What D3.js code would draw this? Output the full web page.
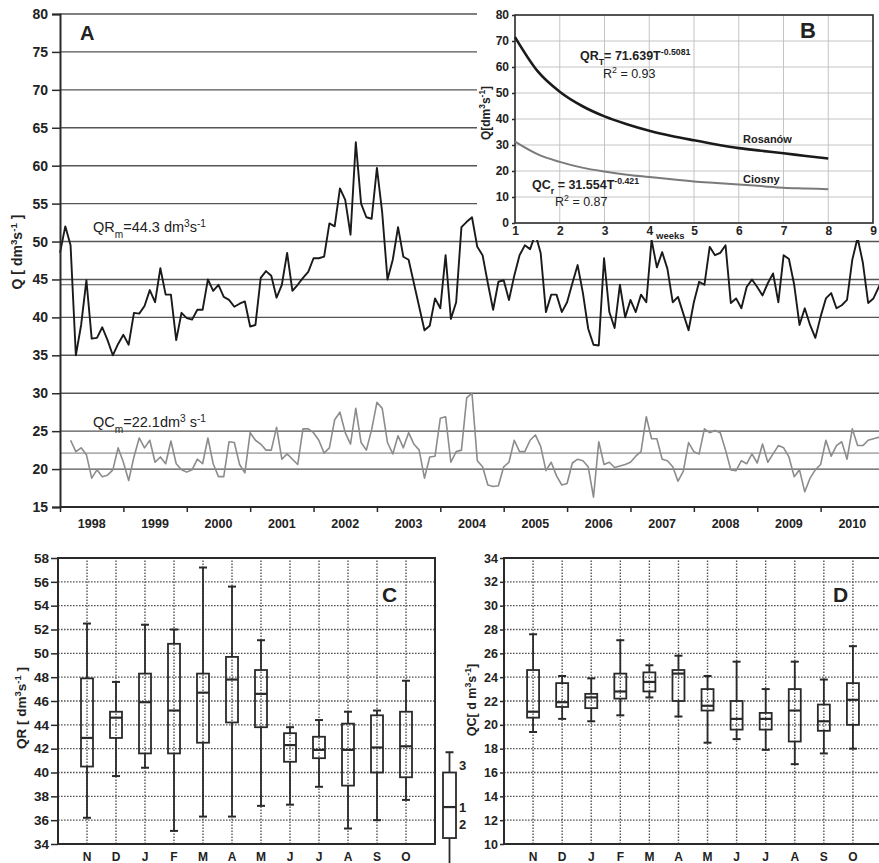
<!DOCTYPE html>
<html><head><meta charset="utf-8">
<script src="https://cdn.jsdelivr.net/npm/d3@7"></script>
<style>
body{margin:0;background:#fff}
svg text{fill:#222}
</style>
</head><body>
<svg id="c" width="879" height="863"></svg>
<script>
// ---------------- DATA ----------------
const years = ["1998","1999","2000","2001","2002","2003","2004","2005","2006","2007","2008","2009","2010"];
const aTicks = [15,20,25,30,35,40,45,50,55,60,65,70,75,80];
const qrMean = 44.3, qcMean = 22.1;
// monthly discharge Rosanów (QR), index 0 = first month shown
const qrMonthly = [48.5,52,49.5,35,39,44.9,37.2,37.3,38.7,37,35,36.5,37.7,36.4,40.6,40.5,41.5,43.6,42,46.5,
 43,43,37,40.6,39.9,39.7,41,41,45,43.5,44.3,42.7,42.3,41.4,41.8,42.1,38.8,39,45.2,46.1,
 45.5,42.6,44.3,48.5,43.5,44.3,45.2,46,47.8,47.8,48,52.4,52,57,55.5,50.9,63.1,55,53.2,53,
 59.7,53.8,45,47.6,51.9,48,47.6,44.5,41.4,38.3,38.9,42.5,41.2,48.2,39.8,42,51.9,52.6,53.2,49.3,
 48.2,44.5,41,44.7,44.9,42.3,45.5,48.2,49.5,49,51,48.5,40.7,43,43,40.7,42,44.5,46.9,43.2,
 38.5,36.4,36.3,47.8,40.7,38.6,44.3,40,42.3,40.7,43,42,50.2,46.6,48.6,46.4,42,42.7,40.5,38.3,
 42,44.7,44.3,49.3,48.2,48.5,49.5,41.9,42.5,41.2,44,45,44,42.9,44.5,45.8,42,48.2,47.7,44.3,
 39,41.2,39,37.3,40.1,42.5,43.2,41.2,41.6,42.3,47.6,50.5,47.2,41.9,42.5,44,45.5];
// monthly discharge Ciosny (QC), starts at month index 2
const qcStart = 2;
const qcMonthly = [23.8,22.3,22.8,21.9,18.8,19.9,19.0,19.2,19.9,22.8,20.9,18.5,21.6,24.1,22.8,23.8,20.9,21.6,20.7,23.7,
 20.7,19.9,19.6,19.9,21.3,20.7,24.1,20.7,19.0,19.0,23.6,23.5,20.6,19.5,24.8,23.8,23.3,22.5,22.5,25.5,
 21.3,22,21.3,20.6,25.3,25.3,24.8,23.8,22.1,22.8,26.5,27.5,24.8,23.3,28,23.5,22.5,25.2,28.8,28,
 23.5,22,24.4,22.8,24.8,23.3,22.5,18.8,21.6,21.7,26.7,26.9,20.9,22.3,22.5,29.4,30,21.1,20.3,17.9,
 17.7,17.8,20.3,20.9,23.8,22.3,22.3,23.8,24.5,23,19.8,20.9,19.1,17.9,18.1,20.8,21.3,21.1,20.3,16.3,
 23.6,20.6,20.9,20.2,20.4,20.6,20.9,21.7,22.3,26.9,24,24,21.3,21.1,20.3,18.4,19.7,23.5,22.3,22,
 25.3,24.8,25.1,24.8,22.5,19.9,19.8,21.1,20.7,22,20.8,23.3,20.9,22,23.1,22.8,21.6,19,19.9,17,
 18.8,19.9,20.6,23.8,21.7,23.1,23.6,21.3,25.3,23.1,23.1,23.8,24,24.2,24];

// Panel B: recession curves
const weeks = [1,1.5,2,2.5,3,3.5,4,4.5,5,5.5,6,6.5,7,7.5,8];
const qrCurve = [71.5,58.5,50.5,45,41,38,35.5,33.5,31.8,30.2,28.8,27.8,26.8,25.8,24.8];
const qcCurve = [31.3,26.5,23.5,21.3,19.8,18.6,17.7,16.8,16.0,15.4,14.8,14.2,13.6,13.3,13.0];
const bXTicks = [1,2,3,4,5,6,7,8,9];
const bYTicks = [0,10,20,30,40,50,60,70,80];

// Panels C/D: monthly box plots
const months = ["N","D","J","F","M","A","M","J","J","A","S","O"];
const qrMin = [36.2,39.7,40.4,35.1,36.3,36.3,37.2,37.3,38.8,35.3,36.0,37.7];
const qrQ1  = [40.5,42.9,41.6,41.6,42.5,44.2,43.8,40.9,41.2,38.9,40.0,39.6];
const qrMed = [42.9,44.6,45.9,45.2,46.7,47.8,46.6,42.3,41.9,41.9,42.1,42.2];
const qrQ3  = [47.9,45.1,48.3,50.8,48.3,49.7,48.6,43.3,43.0,44.1,44.8,45.1];
const qrMax = [52.5,47.6,52.4,52.0,57.2,55.6,51.1,43.8,44.4,45.1,45.2,47.7];
const cTicks = [34,36,38,40,42,44,46,48,50,52,54,56,58];
const legendBox = {min:32.3, q1:34.5, med:37.1, q3:40.0, max:41.7};

const qcMin = [19.4,20.5,20.3,20.8,22.3,20.7,18.5,18.8,17.9,16.7,17.6,18.0];
const qcQ1  = [20.6,21.5,21.4,22.2,22.8,22.0,21.2,19.6,19.6,18.6,19.5,20.0];
const qcMed = [21.1,21.9,22.3,22.8,23.6,24.3,21.6,20.5,20.5,21.2,20.3,22.1];
const qcQ3  = [24.6,23.5,22.6,24.3,24.4,24.6,23.0,22.0,21.0,23.0,21.7,23.5];
const qcMax = [27.6,24.1,23.9,27.1,25.0,25.8,24.1,25.3,23.0,25.3,23.8,26.6];
const dTicks = [10,12,14,16,18,20,22,24,26,28,30,32,34];

// ---------------- DRAW ----------------
const NARROW = '"Liberation Sans Narrow","Arial Narrow","Liberation Sans",Arial,sans-serif';
const SANS = '"Liberation Sans",Arial,sans-serif';
const svg = d3.select("#c");
const INK = "#2a2a2a";

function styleAxis(g, fs) {
  g.attr("font-family", NARROW).attr("font-weight", "bold").attr("font-size", fs);
  g.select(".domain").attr("stroke", INK).attr("stroke-width", 2);
  g.selectAll(".tick line").attr("stroke", INK).attr("stroke-width", 1.5);
  g.selectAll(".tick text").attr("font-family", NARROW).attr("font-weight", "bold")
    .attr("font-size", fs).attr("fill", "#222");
}
function supText(sel, parts, size) {
  parts.forEach(([t, k]) => {
    const ts = sel.append("tspan").text(t);
    if (k === "sup") ts.attr("baseline-shift", "super").attr("font-size", size * 0.7);
    if (k === "sub") ts.attr("baseline-shift", "sub").attr("font-size", size * 0.7);
  });
}

// ===== Panel A =====
const xA = d3.scaleLinear().domain([0, 156]).range([60, 884]);
const yA = d3.scaleLinear().domain([15, 80]).range([507, 14]);
const gA = svg.append("g");
gA.selectAll("line.grid").data(aTicks.filter(v => v > 15)).join("line")
  .attr("x1", xA(0)).attr("x2", 879).attr("y1", d => yA(d)).attr("y2", d => yA(d))
  .attr("stroke", "#555").attr("stroke-width", 1.4);
gA.append("line").attr("x1", xA(0)).attr("x2", 879).attr("y1", yA(qrMean)).attr("y2", yA(qrMean))
  .attr("stroke", "#555").attr("stroke-width", 1.2);
gA.append("line").attr("x1", xA(0)).attr("x2", 879).attr("y1", yA(qcMean)).attr("y2", yA(qcMean))
  .attr("stroke", "#b0b0b0").attr("stroke-width", 1.6);

gA.append("path").datum(qcMonthly)
  .attr("d", d3.line().x((d, i) => xA(i + qcStart)).y(d => yA(d)))
  .attr("fill", "none").attr("stroke", "#8c8c8c").attr("stroke-width", 1.6).attr("stroke-linejoin", "round");
gA.append("path").datum(qrMonthly)
  .attr("d", d3.line().x((d, i) => xA(i)).y(d => yA(d)))
  .attr("fill", "none").attr("stroke", "#1a1a1a").attr("stroke-width", 1.9).attr("stroke-linejoin", "round");

const axAL = gA.append("g").attr("transform", `translate(${xA(0)},0)`)
  .call(d3.axisLeft(yA).tickValues(aTicks).tickSize(8).tickPadding(4));
styleAxis(axAL, 14);
const yearBounds = d3.range(0, years.length + 1).map(k => k * 12);
const axAB = gA.append("g").attr("transform", `translate(0,${yA(15)})`)
  .call(d3.axisBottom(xA).tickValues(yearBounds).tickSize(5).tickFormat(""));
styleAxis(axAB, 12);
axAB.select(".domain").attr("d", `M${xA(0)},0H879`);
gA.selectAll("text.yr").data(years).join("text")
  .attr("x", (d, i) => xA(i * 12 + 6)).attr("y", 528).attr("text-anchor", "middle")
  .attr("font-family", NARROW).attr("font-weight", "bold").attr("font-size", 12.5).text(d => d);

gA.append("text").attr("x", 80).attr("y", 40).attr("font-family", SANS).attr("font-weight", "bold")
  .attr("font-size", 20).text("A");
const tA = gA.append("text").attr("transform", "translate(22,252) rotate(-90)").attr("text-anchor", "middle")
  .attr("font-family", SANS).attr("font-weight", "bold").attr("font-size", 14);
supText(tA, [["Q [ dm", "n"], ["3", "sup"], ["s", "n"], ["-1", "sup"], [" ]", "n"]], 14);

const tQR = gA.append("text").attr("x", 93).attr("y", 232).attr("font-family", SANS).attr("font-size", 14.5).attr("fill", "#333");
supText(tQR, [["QR", "n"], ["m", "sub"], ["=44.3 dm", "n"], ["3", "sup"], ["s", "n"], ["-1", "sup"]], 14.5);
const tQC = gA.append("text").attr("x", 93).attr("y", 427).attr("font-family", SANS).attr("font-size", 14.5).attr("fill", "#333");
supText(tQC, [["QC", "n"], ["m", "sub"], ["=22.1dm", "n"], ["3", "sup"], [" s", "n"], ["-1", "sup"]], 14.5);

// ===== Panel B (inset) =====
const gB = svg.append("g");
gB.append("rect").attr("x", 477).attr("y", 0).attr("width", 402).attr("height", 240).attr("fill", "#fff");
const xB = d3.scaleLinear().domain([1, 9]).range([515, 873]);
const yB = d3.scaleLinear().domain([0, 80]).range([223, 15]);
gB.selectAll("line.vg").data(bXTicks.slice(1, -1)).join("line")
  .attr("x1", d => xB(d)).attr("x2", d => xB(d)).attr("y1", yB(0)).attr("y2", yB(80))
  .attr("stroke", "#c4c4c4").attr("stroke-width", 1);
gB.selectAll("line.hg").data(bYTicks.slice(1, -1)).join("line")
  .attr("x1", xB(1)).attr("x2", xB(9)).attr("y1", d => yB(d)).attr("y2", d => yB(d))
  .attr("stroke", "#c4c4c4").attr("stroke-width", 1);
gB.append("rect").attr("x", xB(1)).attr("y", yB(80)).attr("width", xB(9) - xB(1)).attr("height", yB(0) - yB(80))
  .attr("fill", "none").attr("stroke", INK).attr("stroke-width", 1.6);
const axBL = gB.append("g").attr("transform", `translate(${xB(1)},0)`)
  .call(d3.axisLeft(yB).tickValues(bYTicks).tickSize(3).tickPadding(3));
styleAxis(axBL, 12); axBL.select(".domain").remove();
const axBB = gB.append("g").attr("transform", `translate(0,${yB(0)})`)
  .call(d3.axisBottom(xB).tickValues(bXTicks).tickSize(0).tickPadding(3));
styleAxis(axBB, 12); axBB.select(".domain").remove();
gB.append("path").datum(weeks.map((w, i) => [w, qcCurve[i]]))
  .attr("d", d3.line().x(d => xB(d[0])).y(d => yB(d[1])).curve(d3.curveMonotoneX))
  .attr("fill", "none").attr("stroke", "#7a7a7a").attr("stroke-width", 2);
gB.append("path").datum(weeks.map((w, i) => [w, qrCurve[i]]))
  .attr("d", d3.line().x(d => xB(d[0])).y(d => yB(d[1])).curve(d3.curveMonotoneX))
  .attr("fill", "none").attr("stroke", "#1a1a1a").attr("stroke-width", 2.6);
gB.append("text").attr("x", 800).attr("y", 38).attr("font-family", SANS).attr("font-weight", "bold")
  .attr("font-size", 22).text("B");
const tB = gB.append("text").attr("transform", "translate(490,113) rotate(-90)").attr("text-anchor", "middle")
  .attr("font-family", NARROW).attr("font-weight", "bold").attr("font-size", 12);
supText(tB, [["Q[dm", "n"], ["3", "sup"], ["s", "n"], ["-1", "sup"], ["]", "n"]], 12);
const eq1 = gB.append("text").attr("x", 580).attr("y", 60).attr("font-family", NARROW).attr("font-weight", "bold").attr("font-size", 12.5);
supText(eq1, [["QR", "n"], ["T", "sub"], ["= 71.639T", "n"], ["-0.5081", "sup"]], 12.5);
const r1 = gB.append("text").attr("x", 603).attr("y", 78).attr("font-family", NARROW).attr("font-size", 12.5).attr("fill", "#444");
supText(r1, [["R", "n"], ["2", "sup"], [" = 0.93", "n"]], 12.5);
const eq2 = gB.append("text").attr("x", 532).attr("y", 189).attr("font-family", NARROW).attr("font-weight", "bold").attr("font-size", 12.5);
supText(eq2, [["QC", "n"], ["r", "sub"], [" = 31.554T", "n"], ["-0.421", "sup"]], 12.5);
const r2 = gB.append("text").attr("x", 555).attr("y", 206).attr("font-family", NARROW).attr("font-size", 12.5).attr("fill", "#444");
supText(r2, [["R", "n"], ["2", "sup"], [" = 0.87", "n"]], 12.5);
gB.append("text").attr("x", 743).attr("y", 143).attr("font-family", NARROW).attr("font-weight", "bold").attr("font-size", 11).text("Rosanów");
gB.append("text").attr("x", 743).attr("y", 183).attr("font-family", NARROW).attr("font-weight", "bold").attr("font-size", 11).text("Ciosny");
gB.append("text").attr("x", 656).attr("y", 239).attr("font-family", NARROW).attr("font-weight", "bold").attr("font-size", 9.5).text("weeks");

// ===== Box plot panels =====
function boxPanel(cfg) {
  const g = svg.append("g");
  const x = d3.scalePoint().domain(d3.range(12)).range([cfg.x0, cfg.x1]).padding(1);
  const y = d3.scaleLinear().domain(cfg.dom).range([844, 558]);
  const right = Math.min(cfg.x1, 879);
  g.selectAll("line.hg").data(cfg.ticks.slice(1, -1)).join("line")
    .attr("x1", cfg.x0).attr("x2", right).attr("y1", d => y(d)).attr("y2", d => y(d))
    .attr("stroke", "#555").attr("stroke-width", 1.4).attr("stroke-dasharray", "1.6,1.4");
  g.selectAll("line.vg").data(d3.range(12)).join("line")
    .attr("x1", d => x(d)).attr("x2", d => x(d)).attr("y1", y(cfg.dom[0])).attr("y2", y(cfg.dom[1]))
    .attr("stroke", "#555").attr("stroke-width", 1.4).attr("stroke-dasharray", "1.6,1.4");
  g.append("rect").attr("x", cfg.x0).attr("y", y(cfg.dom[1])).attr("width", cfg.x1 - cfg.x0)
    .attr("height", y(cfg.dom[0]) - y(cfg.dom[1])).attr("fill", "none").attr("stroke", INK).attr("stroke-width", 2);
  const ax = g.append("g").attr("transform", `translate(${cfg.x0},0)`)
    .call(d3.axisLeft(y).tickValues(cfg.ticks).tickSize(cfg.tick).tickPadding(2));
  styleAxis(ax, cfg.fs); ax.select(".domain").remove();
  g.selectAll("text.m").data(months).join("text")
    .attr("x", (d, i) => x(i)).attr("y", 861).attr("text-anchor", "middle")
    .attr("font-family", NARROW).attr("font-weight", "bold").attr("font-size", 12).text(d => d);
  const bw = 12;
  d3.range(12).forEach(i => {
    const cx = x(i);
    g.append("line").attr("x1", cx).attr("x2", cx).attr("y1", y(cfg.max[i])).attr("y2", y(cfg.q3[i])).attr("stroke", INK).attr("stroke-width", 1.8);
    g.append("line").attr("x1", cx).attr("x2", cx).attr("y1", y(cfg.q1[i])).attr("y2", y(cfg.min[i])).attr("stroke", INK).attr("stroke-width", 1.8);
    [cfg.max[i], cfg.min[i]].forEach(v => g.append("line").attr("x1", cx - 4).attr("x2", cx + 4)
      .attr("y1", y(v)).attr("y2", y(v)).attr("stroke", INK).attr("stroke-width", 2));
    g.append("rect").attr("x", cx - bw / 2).attr("y", y(cfg.q3[i])).attr("width", bw)
      .attr("height", y(cfg.q1[i]) - y(cfg.q3[i])).attr("fill", "none").attr("stroke", INK).attr("stroke-width", 1.8);
    g.append("line").attr("x1", cx - bw / 2).attr("x2", cx + bw / 2).attr("y1", y(cfg.med[i])).attr("y2", y(cfg.med[i]))
      .attr("stroke", INK).attr("stroke-width", 2.2);
  });
  g.append("text").attr("x", cfg.lx).attr("y", 602).attr("font-family", SANS).attr("font-weight", "bold")
    .attr("font-size", 21).text(cfg.label);
  const tt = g.append("text").attr("transform", `translate(${cfg.tx},${cfg.ty}) rotate(-90)`).attr("text-anchor", "middle")
    .attr("font-family", SANS).attr("font-weight", "bold").attr("font-size", cfg.tfs);
  supText(tt, cfg.title, cfg.tfs);
  return {g, x, y};
}

const C = boxPanel({x0: 58, x1: 435, dom: [34, 58], ticks: cTicks, min: qrMin, q1: qrQ1, med: qrMed, q3: qrQ3, max: qrMax,
  label: "C", lx: 382, tx: 26, ty: 708, tick: 7, fs: 13.5, tfs: 13.5,
  title: [["QR [ dm", "n"], ["3", "sup"], ["s", "n"], ["-1", "sup"], [" ]", "n"]]});
const D = boxPanel({x0: 504, x1: 882, dom: [10, 34], ticks: dTicks, min: qcMin, q1: qcQ1, med: qcMed, q3: qcQ3, max: qcMax,
  label: "D", lx: 833, tx: 476, ty: 700, tick: 4, fs: 12.5, tfs: 12.5,
  title: [["QC[ d m", "n"], ["3", "sup"], ["s", "n"], ["-1", "sup"], ["]", "n"]]});

// legend box (drawn in C's value scale)
const lg = svg.append("g");
const lx = 449.5, yC = C.y;
lg.append("line").attr("x1", lx).attr("x2", lx).attr("y1", yC(legendBox.max)).attr("y2", yC(legendBox.q3)).attr("stroke", INK).attr("stroke-width", 1.8);
lg.append("line").attr("x1", lx).attr("x2", lx).attr("y1", yC(legendBox.q1)).attr("y2", 863).attr("stroke", INK).attr("stroke-width", 1.8);
lg.append("line").attr("x1", lx - 4).attr("x2", lx + 4).attr("y1", yC(legendBox.max)).attr("y2", yC(legendBox.max)).attr("stroke", INK).attr("stroke-width", 2);
lg.append("rect").attr("x", lx - 6.5).attr("y", yC(legendBox.q3)).attr("width", 13).attr("height", yC(legendBox.q1) - yC(legendBox.q3))
  .attr("fill", "none").attr("stroke", INK).attr("stroke-width", 1.8);
lg.append("line").attr("x1", lx - 6.5).attr("x2", lx + 6.5).attr("y1", yC(legendBox.med)).attr("y2", yC(legendBox.med)).attr("stroke", INK).attr("stroke-width", 2.2);
[["3", yC(legendBox.max) + 18], ["1", yC(legendBox.med) + 5], ["2", yC(legendBox.med) + 22]].forEach(([t, yy]) =>
  lg.append("text").attr("x", 459).attr("y", yy).attr("font-family", NARROW).attr("font-weight", "bold").attr("font-size", 13).text(t));
</script>
</body></html>
